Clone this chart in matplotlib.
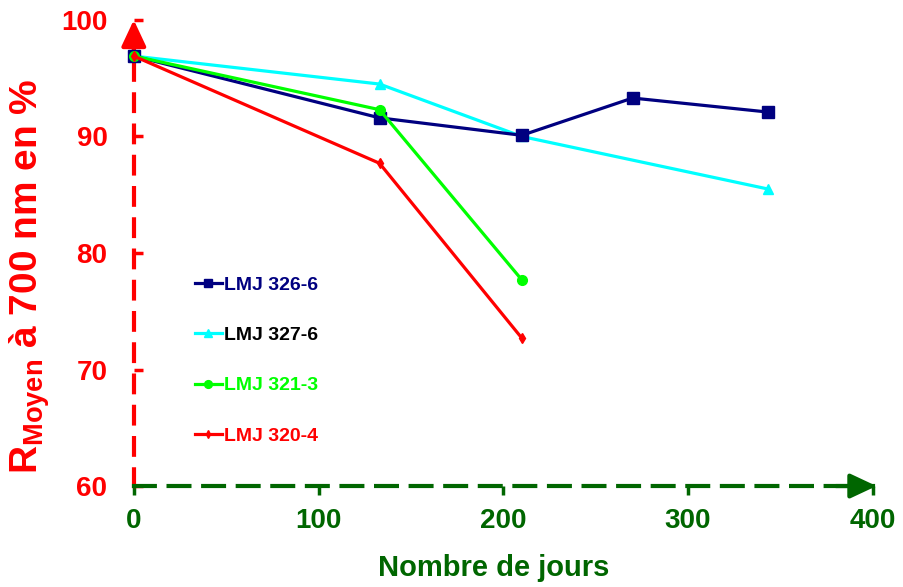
import matplotlib.pyplot as plt

plt.rcParams['font.family'] = ['Liberation Sans', 'DejaVu Sans']
plt.rcParams['font.weight'] = 'bold'
plt.rcParams['mathtext.fontset'] = 'custom'
plt.rcParams['mathtext.rm'] = 'Liberation Sans:bold'
plt.rcParams['mathtext.it'] = 'Liberation Sans:bold'
plt.rcParams['mathtext.bf'] = 'Liberation Sans:bold'
plt.rcParams['mathtext.default'] = 'rm'

# Data
days_326 = [0, 133, 210, 270, 343]
r_326 = [96.9, 91.6, 90.1, 93.3, 92.1]

days_327 = [0, 133, 210, 343]
r_327 = [96.9, 94.5, 90.0, 85.5]

days_321 = [0, 133, 210]
r_321 = [96.9, 92.3, 77.7]

days_320 = [0, 133, 210]
r_320 = [96.9, 87.7, 72.7]

labels = ["LMJ 326-6", "LMJ 327-6", "LMJ 321-3", "LMJ 320-4"]
x_ticks = [0, 100, 200, 300, 400]
y_ticks = [60, 70, 80, 90, 100]

red = '#FF0000'
dkgreen = '#006600'

fig = plt.figure(figsize=(9.04, 5.87), dpi=100)
ax = fig.add_axes([0.148, 0.172, 0.8175, 0.794])

lw = 2.3
ax.plot(days_326, r_326, color='#000080', marker='s', markersize=8, lw=lw, label=labels[0], clip_on=False, zorder=4)
ax.plot(days_327, r_327, color='#00FFFF', marker='^', markersize=7, lw=lw, label=labels[1], clip_on=False, zorder=3)
ax.plot(days_321, r_321, color='#00FF00', marker='o', markersize=7, lw=lw, label=labels[2], clip_on=False, zorder=5)
ax.plot(days_320, r_320, color='#FF0000', marker='d', markersize=5, lw=lw, label=labels[3], clip_on=False, zorder=6)

ax.set_xlim(0, 400)
ax.set_ylim(60, 100)
ax.set_xticks(x_ticks)
ax.set_yticks(y_ticks)

# dashed axes
for s in ['top', 'right']:
    ax.spines[s].set_visible(False)
ax.spines['left'].set_color(red)
ax.spines['left'].set_linewidth(3)
ax.spines['left'].set_linestyle((0, (4, 3.5)))
ax.spines['bottom'].set_color(dkgreen)
ax.spines['bottom'].set_linewidth(3)
ax.spines['bottom'].set_linestyle((0, (5, 3.3)))
ax.spines['left'].set_zorder(2)

# arrow heads
ax.annotate('', xy=(1.005, 0), xytext=(0.95, 0), xycoords='axes fraction',
            arrowprops=dict(arrowstyle='-|>,head_length=1.6,head_width=0.75', color=dkgreen, lw=3, shrinkA=0, shrinkB=0))
ax.annotate('', xy=(0, 1.0), xytext=(0, 0.91), xycoords='axes fraction',
            arrowprops=dict(arrowstyle='-|>,head_length=1.6,head_width=0.75', color=red, lw=3, shrinkA=0, shrinkB=0))

ax.tick_params(axis='y', direction='in', length=6.5, width=2.5, colors=red, labelsize=20, pad=19)
ax.tick_params(axis='x', direction='out', length=6.5, width=2.5, colors=dkgreen, labelsize=20, pad=9)

ax.set_ylabel(r'R$_{Moyen}$ à 700 nm en %', color=red, fontsize=28, fontweight='bold')
ax.yaxis.set_label_coords(-0.11, 0.45)
ax.set_xlabel('Nombre de jours', color=dkgreen, fontsize=21, fontweight='bold')
ax.xaxis.set_label_coords(0.487, -0.145)

leg = ax.legend(loc='upper left', bbox_to_anchor=(0.069, 0.471), frameon=False,
                fontsize=14, handlelength=1.4, handletextpad=0.1, labelspacing=1.68,
                markerscale=0.8, borderpad=0)
for t, c in zip(leg.get_texts(), ['#000080', '#000000', '#00FF00', '#FF0000']):
    t.set_color(c)

fig.savefig('out.png', dpi=100)
